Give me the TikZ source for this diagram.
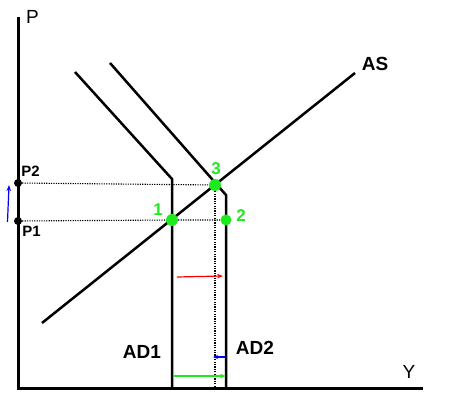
\documentclass[tikz,border=0pt]{standalone}
\usepackage{fontspec}
\setmainfont{Liberation Sans}
\usetikzlibrary{arrows.meta}
\definecolor{eqgreen}{RGB}{30,235,30}

\begin{document}
\begin{tikzpicture}[x=1pt, y=-1pt, every node/.style={font=\bfseries\fontsize{19}{19}\selectfont},
	curve/.style={line width=2.5pt, line join=miter},
	guide/.style={dash pattern=on 1.2pt off 1.2pt, line width=1.1pt},
	eqdot/.style={circle, fill=eqgreen, inner sep=0pt, minimum size=12pt},
	pdot/.style={circle, fill=black, inner sep=0pt, minimum size=8pt},
	numlab/.style={text=eqgreen, font=\bfseries\fontsize{17}{17}\selectfont},
	shiftarrow/.style={line width=1.2pt, -{Stealth[length=6pt, width=4.5pt]}}]
	\useasboundingbox (0,0) rectangle (450,406);
	% axes
	\coordinate (top) at (18,17);
	\coordinate (orig) at (18,388);
	\coordinate (right) at (423,388);
	\draw[line width=3pt] (top) -- (orig) -- (right);
	\node[font=\fontsize{19}{19}\selectfont] (plab) at (32.5,17) {P};
	\node[font=\fontsize{19}{19}\selectfont] (ylab) at (409,372) {Y};
	% supply and demand
	\draw[curve] (42,323) -- (355,73);
	\node (aslab) at (375,64) {AS};
	\draw[curve] (75,72) -- (172,179) -- (172,388);
	\draw[curve] (110,63) -- (226,195) -- (226,388);
	\node (adone) at (142,352) {AD1};
	\node (adtwo) at (255,348) {AD2};
	% points
	\node[pdot] (ptwo) at (18,183) {};
	\node[pdot] (pone) at (18,221) {};
	\node[eqdot] (eqone) at (172,220) {};
	\node[eqdot, minimum size=11pt] (eqtwo) at (226,220) {};
	\node[eqdot] (eqthree) at (215,185) {};
	\draw[guide] (ptwo) -- (eqthree);
	\draw[guide] (pone) -- (eqone) -- (eqtwo);
	\draw[guide] (eqthree) -- (eqthree |- orig);
	\node[font=\bfseries\fontsize{15}{15}\selectfont] (ptwolab) at (30.5,171) {P2};
	\node[font=\bfseries\fontsize{15}{15}\selectfont] (ponelab) at (31.5,231) {P1};
	\node[numlab] (onelab) at (158,210) {1};
	\node[numlab] (twolab) at (241,216) {2};
	\node[numlab] (threelab) at (216,169) {3};
	% shifts
	\coordinate (priceA) at (7.5,222);
	\coordinate (priceB) at (9,185);
	\draw[shiftarrow, blue] (priceA) -- (priceB);
	\coordinate (redA) at (177,277);
	\coordinate (redB) at (223,276);
	\draw[shiftarrow, red] (redA) -- (redB);
	\coordinate (backA) at (225,357);
	\coordinate (backB) at (213,357);
	\draw[shiftarrow, blue, -{Stealth[length=5pt, width=4pt]}] (backA) -- (backB);
	\coordinate (greenA) at (174,376);
	\coordinate (greenB) at (226,376);
	\draw[shiftarrow, eqgreen, line width=1.4pt] (greenA) -- (greenB);
\end{tikzpicture}
\end{document}
